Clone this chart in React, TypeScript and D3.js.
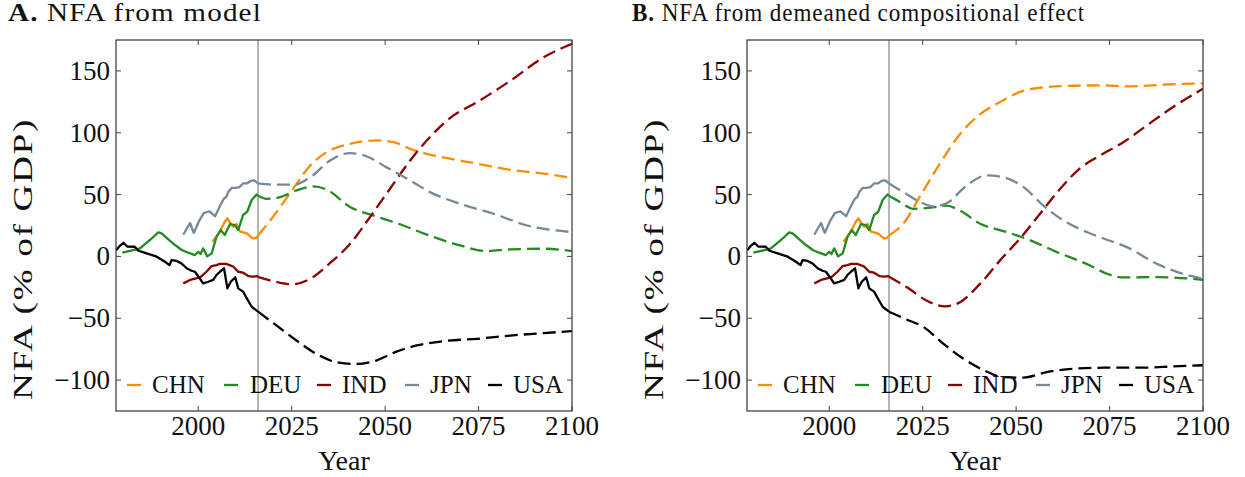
import React from "react";
import * as d3 from "d3";

type Pt = [number, number];

// Country labels and colours, legend order
const countries = ["CHN", "DEU", "IND", "JPN", "USA"];
const colors = ["#ff8c00", "#228b22", "#8b0000", "#778899", "#000000"];

// Axis ticks
const xTicks = [2000, 2025, 2050, 2075, 2100];
const yTicks = [-100, -50, 0, 50, 100, 150];
const splitYear = 2016;

// Observed NFA (% of GDP)
const chnHist: Pt[] = [[2003.8, 11.9], [2005.8, 20], [2007.1, 28], [2007.8, 30.8], [2008.5, 27.3], [2009.4, 24], [2010.3, 26.2], [2011.2, 20], [2013, 18.7], [2014.6, 14.5], [2015.5, 15], [2016, 17]];
const deuHist: Pt[] = [[1979.7, 3], [1982.6, 5], [1984.4, 6.5], [1987.1, 13.3], [1989.3, 19.5], [1990.2, 18.7], [1992, 13.8], [1993.8, 9.2], [1995.6, 5.2], [1997.3, 3], [1999.1, 1.1], [2000, 3.8], [2000.6, 1.9], [2001.3, 6.5], [2002.4, 0], [2003.6, 2.5], [2004.9, 15.9], [2006, 21.3], [2007.1, 17.3], [2008.5, 26.2], [2009.8, 25.4], [2010.7, 21.3], [2012, 33.5], [2013.1, 36.1], [2014.3, 45.6], [2015.6, 50], [2016, 49]];
const indHist: Pt[] = [[1996, -21.8], [1997.8, -19], [2000.5, -16.9], [2002.2, -12.4], [2003.6, -7.8], [2004.9, -7], [2005.8, -6.1], [2007.6, -6.1], [2009.4, -8.3], [2010.7, -12.4], [2012, -13.2], [2013.4, -15.9], [2014.7, -16.4], [2015.7, -15.9], [2016, -16.5]];
const jpnHist: Pt[] = [[1996, 17.5], [1997.8, 27], [1998.8, 19], [2000.2, 28.5], [2001.5, 35], [2003, 36.5], [2004.5, 32.5], [2005.8, 40.5], [2006.8, 46.5], [2007.5, 48], [2008, 52], [2009, 55.5], [2010, 55.5], [2011, 56], [2012, 59], [2013, 59], [2014, 61], [2015, 61.5], [2016, 59]];
const usaHist: Pt[] = [[1978, 5], [1979, 8.5], [1980, 11], [1981, 8], [1983, 7.8], [1984, 4.6], [1986.2, 2.5], [1988.9, -0.2], [1991.1, -4.3], [1992.3, -7], [1992.9, -2.9], [1994.2, -3.7], [1995.5, -5.6], [1996.9, -9.6], [1998.2, -11.6], [1999.1, -12.4], [2000.4, -17.7], [2001.3, -21.8], [2002.7, -20.5], [2004, -19], [2004.9, -15], [2005.8, -12.4], [2006.9, -9.6], [2007.8, -25.8], [2008.7, -20.5], [2009.9, -16.9], [2010.7, -25.8], [2012, -28.5], [2013, -33.9], [2014.3, -40.7], [2016, -44.7]];

// Projections: NFA from model
const chnModel: Pt[] = [[2016, 17], [2020, 32], [2025, 53], [2030, 73.6], [2034.4, 84.4], [2040.6, 91], [2047.8, 93.8], [2052.2, 92.5], [2056.7, 87], [2061, 83], [2065.6, 80], [2074.6, 75], [2083.5, 70], [2092.4, 67], [2100, 63.6]];
const deuModel: Pt[] = [[2016, 49], [2018.3, 46.6], [2021.9, 48], [2026.3, 53.4], [2030.8, 56.6], [2034.4, 54], [2040.6, 40], [2046.9, 33], [2054, 26], [2061, 17.8], [2070, 9], [2077, 4.3], [2083.5, 5.7], [2092.4, 6.2], [2100, 4.3]];
const indModel: Pt[] = [[2016, -16.5], [2020, -20], [2025, -22.6], [2030, -18], [2035, -6], [2040.6, 10], [2046, 32], [2051.3, 54.7], [2056.7, 77.6], [2062, 96.5], [2068.3, 114], [2074.6, 124.8], [2083.5, 142], [2092.4, 161], [2100, 172]];
const jpnModel: Pt[] = [[2016, 59], [2020, 58], [2025.4, 58], [2030, 64], [2035.3, 77.6], [2040.6, 83.6], [2045, 81], [2050.4, 72], [2056.7, 61.5], [2062, 52], [2070, 42.6], [2079, 34.5], [2088, 25], [2100, 19.7]];
const usaModel: Pt[] = [[2016, -44.7], [2021, -56], [2026.3, -68], [2031.7, -79], [2037, -85.5], [2042.4, -87], [2047.8, -84], [2053, -77], [2058.5, -72], [2065.6, -68.5], [2074.6, -66.6], [2083.5, -64], [2092.4, -62], [2100, -60.4]];

// Projections: NFA from demeaned compositional effect
const chnDemeaned: Pt[] = [[2016, 17], [2019.8, 26.4], [2024.7, 50.7], [2029.6, 75], [2035, 99], [2040.4, 115], [2045.7, 124.8], [2051, 133], [2056.4, 136.4], [2065.4, 138], [2072.5, 138.3], [2080.5, 137.5], [2090.4, 139], [2100, 140]];
const deuDemeaned: Pt[] = [[2016, 49], [2018.9, 44], [2022.5, 38.5], [2027, 39.4], [2031.4, 41], [2035, 37], [2040.4, 26.4], [2047.5, 19.7], [2053.8, 13], [2060.9, 3.5], [2069.8, -7.3], [2074.3, -14], [2078.8, -17], [2087.7, -16.7], [2100, -18.9]];
const indDemeaned: Pt[] = [[2016, -16.5], [2020.7, -24.8], [2026, -35.6], [2031, -40.4], [2035, -37], [2040.4, -22], [2045.7, -3.2], [2051, 14.3], [2056.4, 34.5], [2061.8, 54.7], [2067, 71], [2072.5, 81.7], [2078.8, 92.5], [2085, 106], [2092, 120.8], [2100, 135.6]];
const jpnDemeaned: Pt[] = [[2016, 59], [2019.8, 52], [2024.3, 44], [2027.9, 40.4], [2031.4, 43], [2036.8, 57.4], [2042.1, 65.5], [2046.6, 64], [2052, 56], [2057.3, 41], [2062.7, 29], [2068.9, 19.7], [2074.3, 13.5], [2079.6, 7.5], [2087.7, -6], [2094, -13.5], [2100, -18]];
const usaDemeaned: Pt[] = [[2016, -44.7], [2020.7, -51], [2025.2, -57], [2030.5, -70.6], [2035.9, -82.7], [2041.3, -92], [2046.6, -97.6], [2052, -98], [2058.2, -93.5], [2065.4, -90.8], [2074.3, -90], [2083.2, -90], [2092, -89], [2100, -88]];

const histSeries = [chnHist, deuHist, indHist, jpnHist, usaHist];
const modelSeries = [chnModel, deuModel, indModel, jpnModel, usaModel];
const demeanedSeries = [chnDemeaned, deuDemeaned, indDemeaned, jpnDemeaned, usaDemeaned];

const W = 1245;
const H = 477;
const AXIS = "#444";
const INK = "#111";
const textStyle: React.CSSProperties = { fontFamily: '"Liberation Serif", "Times New Roman", Times, serif' };

const plotW = 456;
const plotTop = 40;
const plotBottom = 411;

const legendOffsets = [
  { line: 11, text: 36 },
  { line: 108, text: 134 },
  { line: 201, text: 226 },
  { line: 289, text: 314 },
  { line: 372, text: 397 },
];

interface PanelProps {
  left: number;
  letter: string;
  title: string;
  titleX: number;
  titleLen: number;
  projections: Pt[][];
  id: string;
}

function Panel({ left, letter, title, titleX, titleLen, projections, id }: PanelProps) {
  const x = d3.scaleLinear().domain([1978, 2100]).range([left, left + plotW]);
  const y = d3.scaleLinear().domain([-125, 175]).range([plotBottom, plotTop]);
  const histLine = d3
    .line<Pt>()
    .x((d) => x(d[0]))
    .y((d) => y(d[1]))
    .curve(d3.curveLinear);
  const projLine = d3
    .line<Pt>()
    .x((d) => x(d[0]))
    .y((d) => y(d[1]))
    .curve(d3.curveMonotoneX);
  const right = left + plotW;
  const tickLen = 5;

  return (
    <g style={textStyle}>
      <defs>
        <clipPath id={id}>
          <rect x={left} y={plotTop} width={plotW} height={plotBottom - plotTop} />
        </clipPath>
      </defs>

      <text x={titleX} y={21} fontSize={25} fill={INK} letterSpacing={1} textLength={titleLen} lengthAdjust="spacingAndGlyphs">
        <tspan fontWeight="bold">{letter}</tspan>
        {" " + title}
      </text>

      <g clipPath={`url(#${id})`}>
        <line x1={x(splitYear)} x2={x(splitYear)} y1={plotTop} y2={plotBottom} stroke="#777" strokeWidth={1.1} />
        {histSeries.map((s, i) => (
          <path key={"h" + i} d={histLine(s) || ""} fill="none" stroke={colors[i]} strokeWidth={2.3} strokeLinejoin="round" />
        ))}
        {projections.map((s, i) => (
          <path key={"p" + i} d={projLine(s) || ""} fill="none" stroke={colors[i]} strokeWidth={2.3} strokeDasharray="13,6" />
        ))}
      </g>

      {/* frame */}
      <rect x={left} y={plotTop} width={plotW} height={plotBottom - plotTop} fill="none" stroke={AXIS} strokeWidth={1.3} />

      {xTicks.map((t) => (
        <g key={"x" + t}>
          <line x1={x(t)} x2={x(t)} y1={plotBottom} y2={plotBottom - tickLen} stroke={AXIS} strokeWidth={1} />
          <line x1={x(t)} x2={x(t)} y1={plotTop} y2={plotTop + tickLen} stroke={AXIS} strokeWidth={1} />
          <text x={x(t)} y={435} textAnchor="middle" fontSize={27} fill={INK}>
            {t}
          </text>
        </g>
      ))}
      {yTicks.map((t) => (
        <g key={"y" + t}>
          <line x1={left} x2={left + tickLen} y1={y(t)} y2={y(t)} stroke={AXIS} strokeWidth={1} />
          <line x1={right} x2={right - tickLen} y1={y(t)} y2={y(t)} stroke={AXIS} strokeWidth={1} />
          <text x={left - 6} y={y(t) + 9} textAnchor="end" fontSize={27} fill={INK}>
            {t < 0 ? "\u2212" + Math.abs(t) : String(t)}
          </text>
        </g>
      ))}

      <text x={left + plotW / 2} y={470} textAnchor="middle" fontSize={28} fill={INK}>
        Year
      </text>
      <text
        transform={`translate(${left - 84},259) rotate(-90)`}
        textAnchor="middle"
        fontSize={27}
        fill={INK}
        letterSpacing={1.2}
        textLength={282}
        lengthAdjust="spacingAndGlyphs"
      >
        NFA (% of GDP)
      </text>

      {countries.map((c, i) => (
        <g key={"l" + c}>
          <line x1={left + legendOffsets[i].line} x2={left + legendOffsets[i].line + 14} y1={385} y2={385} stroke={colors[i]} strokeWidth={2.3} />
          <text x={left + legendOffsets[i].text} y={393} fontSize={25} fill={INK}>
            {c}
          </text>
        </g>
      ))}
    </g>
  );
}

export default function App() {
  return (
    <svg width={W} height={H} viewBox={`0 0 ${W} ${H}`} style={{ position: "absolute", left: 0, top: 0, background: "#fff" }}>
      <rect width={W} height={H} fill="#fff" />
      <Panel left={116} letter="A." title="NFA from model" titleX={8} titleLen={254} projections={modelSeries} id="clipA" />
      <Panel left={747} letter="B." title="NFA from demeaned compositional effect" titleX={632} titleLen={453} projections={demeanedSeries} id="clipB" />
    </svg>
  );
}
